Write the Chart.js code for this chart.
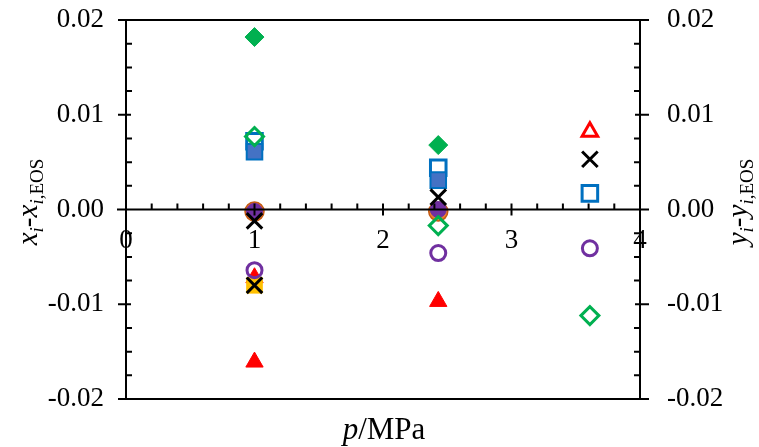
<!DOCTYPE html>
<html>
<head>
<meta charset="utf-8">
<script src="https://cdn.jsdelivr.net/npm/chart.js@4.4.0/dist/chart.umd.min.js"></script>
<style>
  html, body { margin: 0; padding: 0; background: #fff; }
  #wrap { width: 759px; height: 447px; }
</style>
</head>
<body>
<div id="wrap"><canvas id="chart"></canvas></div>
<script>
// pressures (MPa)
const pLow = 1.0;
const pMid = 2.43;
const pHigh = 3.61;

// liquid phase deviations x_i - x_i,EOS (filled markers)
const xGreen = [[pLow, 0.0182], [pMid, 0.0068]];
const xBlue = [[pLow, 0.0061], [pMid, 0.0031]];
const xPurple = [[pLow, -0.0002], [pMid, 0.0000]];
const xOrangeCircle = [[pLow, -0.0002], [pMid, -0.0002]];
const xOrangeSquare = [[pLow, -0.0080]];
const xRed = [[pLow, -0.0161], [pLow, -0.0072], [pMid, -0.0097]];
const xCross = [[pLow, -0.0012], [pLow, -0.0080], [pMid, 0.0013], [pHigh, 0.0053]];

// vapour phase deviations y_i - y_i,EOS (open markers)
const yGreen = [[pLow, 0.0077], [pMid, -0.0017], [pHigh, -0.0112]];
const yBlue = [[pLow, 0.0072], [pMid, 0.0044], [pHigh, 0.0017]];
const yPurple = [[pLow, -0.0064], [pMid, -0.0046], [pHigh, -0.0041]];
const yRed = [[pHigh, 0.0082]];

const xTicks = [0, 1, 2, 3, 4];
const yTicks = [-0.02, -0.01, 0, 0.01, 0.02];

const SERIF = '"Liberation Serif", "Times New Roman", serif';

function pts(arr) {
  return arr.map((d) => ({ x: d[0], y: d[1] }));
}

function ds(data, axis, style) {
  return Object.assign({ data: pts(data), yAxisID: axis, showLine: false }, style);
}

// first dataset is drawn on top
const datasets = [
  ds(xCross, "y", { pointStyle: "crossRot", radius: 11, borderColor: "#000", borderWidth: 3 }),
  ds(yGreen, "y2", { pointStyle: "rectRot", radius: 9, borderColor: "#00B050", backgroundColor: "rgba(0,0,0,0)", borderWidth: 3 }),
  ds(yPurple, "y2", { pointStyle: "circle", radius: 7.5, borderColor: "#7030A0", backgroundColor: "rgba(0,0,0,0)", borderWidth: 3 }),
  ds(xGreen, "y", { pointStyle: "rectRot", radius: 9.5, borderColor: "#00B050", backgroundColor: "#00B050", borderWidth: 1 }),
  ds(xBlue, "y", { pointStyle: "rect", radius: 11, borderColor: "#0070C0", backgroundColor: "#4472C4", borderWidth: 2 }),
  ds(yBlue, "y2", { pointStyle: "rect", radius: 11, borderColor: "#0070C0", backgroundColor: "rgba(0,0,0,0)", borderWidth: 3 }),
  ds(xPurple, "y", { pointStyle: "circle", radius: 8, borderColor: "#7030A0", backgroundColor: "#7030A0", borderWidth: 1 }),
  ds(xOrangeCircle, "y", { pointStyle: "circle", radius: 9.5, borderColor: "#C55A11", backgroundColor: "#ED7D31", borderWidth: 1.5 }),
  ds(xOrangeSquare, "y", { pointStyle: "rect", radius: 11, borderColor: "#FFC000", backgroundColor: "#FFC000", borderWidth: 1 }),
  ds(yRed, "y2", { pointStyle: "triangle", radius: 9, borderColor: "#FF0000", backgroundColor: "rgba(0,0,0,0)", borderWidth: 3 }),
  ds(xRed, "y", { pointStyle: "triangle", radius: 10, borderColor: "#FF0000", backgroundColor: "#FF0000", borderWidth: 1 }),
];

function drawRich(ctx, parts, cx, cy, angle) {
  ctx.save();
  ctx.translate(cx, cy);
  ctx.rotate(angle);
  let w = 0;
  parts.forEach((p) => {
    ctx.font = p.f;
    p.w = ctx.measureText(p.t).width;
    w += p.w;
  });
  let x = -w / 2;
  ctx.fillStyle = "#000";
  ctx.textBaseline = "alphabetic";
  parts.forEach((p) => {
    ctx.font = p.f;
    ctx.fillText(p.t, x, p.dy || 0);
    x += p.w;
  });
  ctx.restore();
}

const framePlugin = {
  id: "frame",
  afterDatasetsDraw(chart) {
    const { ctx, chartArea: a, scales } = chart;
    const ys = scales.y, xs = scales.x;
    const y0 = ys.getPixelForValue(0);
    ctx.save();
    ctx.strokeStyle = "#000";
    ctx.lineWidth = 2;
    ctx.beginPath();
    // box
    ctx.moveTo(a.left, a.top); ctx.lineTo(a.left, a.bottom);
    ctx.moveTo(a.right, a.top); ctx.lineTo(a.right, a.bottom);
    ctx.moveTo(a.left - 8, a.top); ctx.lineTo(a.right + 9, a.top);
    ctx.moveTo(a.left - 8, a.bottom); ctx.lineTo(a.right + 9, a.bottom);
    // zero line
    ctx.moveTo(a.left - 9, y0); ctx.lineTo(a.right + 9, y0);
    // y ticks
    for (let v = -0.02; v <= 0.02001; v += 0.0025) {
      const py = ys.getPixelForValue(v);
      const major = Math.abs(Math.round(v / 0.01) * 0.01 - v) < 1e-6;
      if (major) {
        ctx.moveTo(a.left - 8, py); ctx.lineTo(a.left + 5, py);
        ctx.moveTo(a.right - 5, py); ctx.lineTo(a.right + 9, py);
      } else {
        ctx.moveTo(a.left, py); ctx.lineTo(a.left + 6, py);
        ctx.moveTo(a.right, py); ctx.lineTo(a.right - 6, py);
      }
    }
    // x ticks
    for (let i = 0; i <= 20; i++) {
      const v = i * 0.2;
      const px = xs.getPixelForValue(v);
      if (i % 5 === 0) {
        ctx.moveTo(px, y0 - 6); ctx.lineTo(px, y0 + 6);
      } else {
        ctx.moveTo(px, y0); ctx.lineTo(px, y0 - 6);
      }
    }
    ctx.stroke();
    ctx.restore();

    const big = 'italic 29px ' + SERIF;
    const bigN = '29px ' + SERIF;
    const sm = 'italic 19px ' + SERIF;
    const smN = '19px ' + SERIF;
    drawRich(ctx, [
      { t: "x", f: big }, { t: "i", f: sm, dy: 6 }, { t: "-", f: bigN },
      { t: "x", f: big }, { t: "i", f: sm, dy: 6 }, { t: ",EOS", f: smN, dy: 6 },
    ], 37, 202, -Math.PI / 2);
    drawRich(ctx, [
      { t: "y", f: big }, { t: "i", f: sm, dy: 6 }, { t: "-", f: bigN },
      { t: "y", f: big }, { t: "i", f: sm, dy: 6 }, { t: ",EOS", f: smN, dy: 6 },
    ], 747, 202, -Math.PI / 2);
    drawRich(ctx, [
      { t: "p", f: 'italic 31px ' + SERIF }, { t: "/MPa", f: '31px ' + SERIF },
    ], 384, 439, 0);
  },
};

const tickFont = { family: SERIF, size: 27 };

function fitY(width) {
  return (s) => {
    s.width = width;
    s.paddingTop = 0;
    s.paddingBottom = 0;
  };
}

new Chart(document.getElementById("chart"), {
  type: "scatter",
  data: { datasets },
  options: {
    responsive: true,
    maintainAspectRatio: false,
    animation: false,
    layout: { padding: { top: 20, bottom: 48, left: 0, right: 0 } },
    plugins: { legend: { display: false }, tooltip: { enabled: false } },
    scales: {
      x: {
        type: "linear",
        position: { y: 0 },
        min: 0,
        max: 4,
        afterBuildTicks: (s) => { s.ticks = xTicks.map((v) => ({ value: v })); },
        ticks: { font: tickFont, color: "#000", padding: 7, autoSkip: false, maxRotation: 0 },
        grid: { display: false },
        border: { display: false },
      },
      y: {
        position: "left",
        min: -0.02,
        max: 0.02,
        afterBuildTicks: (s) => { s.ticks = yTicks.map((v) => ({ value: v })); },
        afterFit: fitY(126),
        ticks: { font: tickFont, color: "#000", padding: 14, callback: (v) => v.toFixed(2) },
        grid: { display: false },
        border: { display: false },
      },
      y2: {
        position: "right",
        min: -0.02,
        max: 0.02,
        afterBuildTicks: (s) => { s.ticks = yTicks.map((v) => ({ value: v })); },
        afterFit: fitY(119),
        ticks: { font: tickFont, color: "#000", padding: 19, callback: (v) => v.toFixed(2) },
        grid: { display: false },
        border: { display: false },
      },
    },
  },
  plugins: [framePlugin],
});
</script>
</body>
</html>
